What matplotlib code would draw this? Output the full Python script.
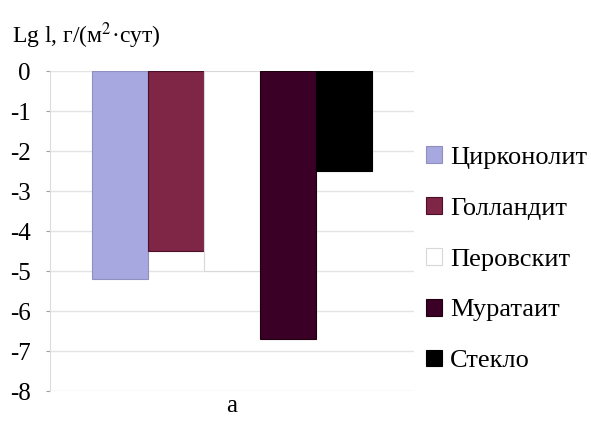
import numpy as np
import matplotlib
matplotlib.use("Agg")
import matplotlib.pyplot as plt
from matplotlib.patches import Patch

plt.rcParams['font.family'] = ['Liberation Serif', 'DejaVu Serif']
plt.rcParams['mathtext.fontset'] = 'stix'

# data
materials = ["Цирконолит", "Голландит", "Перовскит", "Муратаит", "Стекло"]
lg_rate = [-5.2, -4.5, -5.0, -6.7, -2.5]
colors = ["#A8A8E0", "#7F2546", "#FFFFFF", "#3A0026", "#000000"]
edges = ["#9090c0", "#4a1028", "#d8d8d8", "#20000f", "#000000"]
yticks = [0, -1, -2, -3, -4, -5, -6, -7, -8]

fig = plt.figure(figsize=(5.91, 4.33), dpi=100)
ax = fig.add_axes([50/591, 1-391/433, 364/591, 320/433])

x = np.arange(len(materials))
ax.bar(x, lg_rate, width=1.0, color=colors, edgecolor=edges, linewidth=0.8, zorder=3)

ax.set_xlim(-1.25, len(materials) + 0.25)
ax.set_ylim(-8, 0)
ax.set_yticks(yticks)
ax.set_yticklabels([str(v) for v in yticks], fontsize=18)
ax.set_xticks([])
ax.yaxis.grid(True, color="#e4e4e4", linewidth=1, zorder=0)
for s in ["top", "right", "bottom"]:
    ax.spines[s].set_visible(False)
ax.spines["left"].set_color("#dcdcdc")
ax.tick_params(axis="y", length=3, color="#a0a0a0", pad=11)

fig.text(12/591, 1-36/433, "Lg l, г/(м$^{2}$·сут)", fontsize=17, va="center", ha="left")
fig.text(232/591, 1-406/433, "а", fontsize=18, va="center", ha="center")

handles = [Patch(facecolor=c, edgecolor=e, linewidth=0.8) for c, e in zip(colors, edges)]
fig.legend(handles, materials, loc="upper left", bbox_to_anchor=(426/591, 1-146/433),
           frameon=False, fontsize=19, handlelength=0.6, handleheight=0.6,
           handletextpad=0.3, labelspacing=1.07, borderaxespad=0, borderpad=0)

fig.savefig("out.png", dpi=100)
